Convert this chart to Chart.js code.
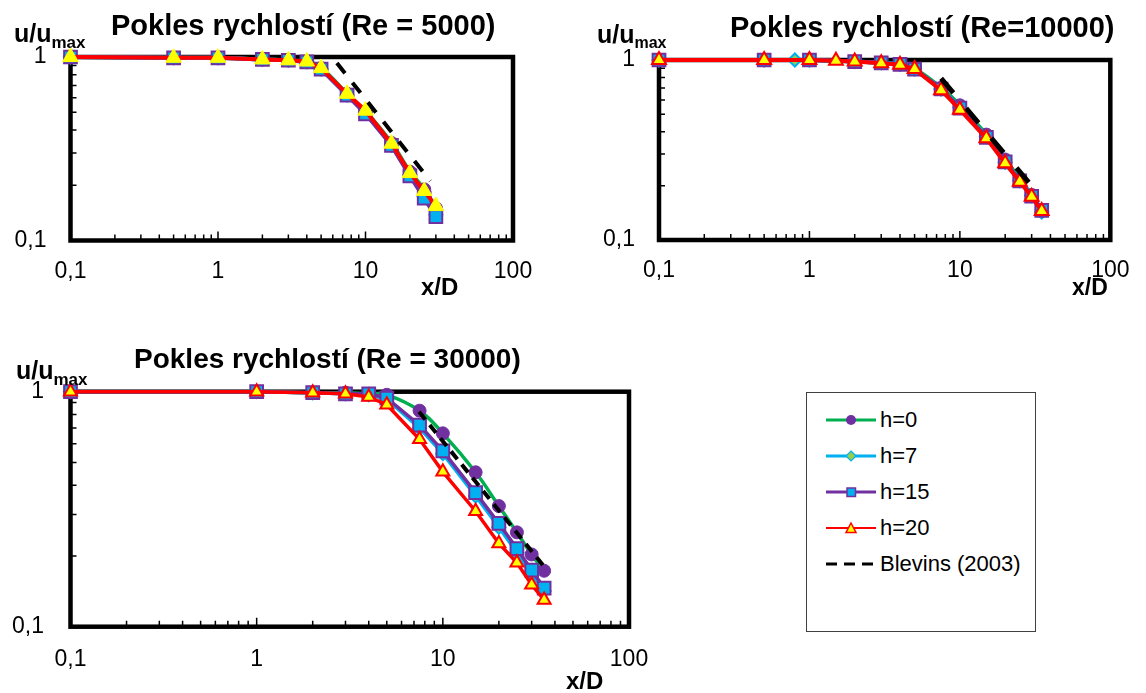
<!DOCTYPE html>
<html>
<head>
<meta charset="utf-8">
<title>Pokles rychlostí</title>
<script src="https://cdn.jsdelivr.net/npm/chart.js@4.4.1/dist/chart.umd.min.js"></script>
<style>
  html, body { margin: 0; padding: 0; background: #fff; }
  #page { position: relative; width: 1146px; height: 693px; overflow: hidden; font-family: "Liberation Sans", Arial, sans-serif; }
  #page canvas { position: absolute; }
  #legend { position: absolute; left: 806px; top: 392px; width: 228px; height: 238px; border: 1.5px solid #404040; }
  .row { position: absolute; left: 0; width: 228px; height: 24px; }
  .row svg { position: absolute; left: 19px; top: 2px; }
  .row span { position: absolute; left: 73px; top: 0; font-size: 22px; line-height: 24px; white-space: nowrap; color: #000; }
</style>
</head>
<body>
<div id="page">
  <canvas id="re5000" width="560" height="310" style="left:0;top:0"></canvas>
  <canvas id="re10000" width="586" height="310" style="left:560px;top:0"></canvas>
  <canvas id="re30000" width="700" height="363" style="left:0;top:330px"></canvas>
  <div id="legend"></div>
</div>
<script>
Chart.defaults.font.family = '"Liberation Sans", Arial, sans-serif';
Chart.defaults.color = '#000';

// axis ticks (log-log, inner minor ticks)
const xTicks = [0.1, 0.2, 0.3, 0.4, 0.5, 0.6, 0.7, 0.8, 0.9, 1, 2, 3, 4, 5, 6, 7, 8, 9, 10, 20, 30, 40, 50, 60, 70, 80, 90, 100];
const xTickLabels = [0.1, 1, 10, 100];
const yTicks = [0.1, 0.2, 0.3, 0.4, 0.5, 0.6, 0.7, 0.8, 0.9, 1];
const yTickLabels = [0.1, 1];

const seriesNames = ['h=0', 'h=7', 'h=15', 'h=20', 'Blevins (2003)'];

// Re = 5000
const x5000 = [0.1, 0.5, 1, 2, 3, 4, 5, 7.5, 10, 15, 20, 25, 30];
const re5000_h0 = [1.0, 0.99, 0.99, 0.97, 0.96, 0.94, 0.87, 0.63, 0.505, 0.34, 0.237, 0.19, 0.15];
const re5000_h7 = [1.0, 0.99, 0.99, 0.97, 0.96, 0.94, 0.86, 0.62, 0.495, 0.33, 0.228, 0.173, 0.138];
const re5000_h15 = [1.0, 0.99, 0.99, 0.97, 0.96, 0.94, 0.86, 0.62, 0.49, 0.33, 0.225, 0.17, 0.135];
const re5000_h20 = [1.0, 0.99, 0.99, 0.97, 0.96, 0.945, 0.87, 0.63, 0.51, 0.337, 0.233, 0.186, 0.154];
const blevins5000_x = [6.4, 27.5];
const blevins5000_y = [0.927, 0.211];

// Re = 10000
const x10000 = [0.1, 0.5, 1, 2, 3, 4, 5, 7.5, 10, 15, 20, 25, 30, 35];
const x10000_h7 = [0.1, 0.5, 0.8, 1, 2, 3, 4, 5, 7.5, 10, 15, 20, 25, 30, 35];
const x10000_h20 = [0.1, 0.5, 1, 1.5, 2, 3, 4, 5, 7.5, 10, 15, 20, 25, 30, 35];
const re10000_h0 = [1.0, 1.0, 1.0, 0.98, 0.965, 0.945, 0.895, 0.70, 0.56, 0.385, 0.28, 0.218, 0.178, 0.147];
const re10000_h7 = [1.0, 1.0, 1.0, 1.0, 0.98, 0.965, 0.945, 0.89, 0.69, 0.545, 0.375, 0.27, 0.213, 0.176, 0.143];
const re10000_h15 = [1.0, 1.0, 1.0, 0.98, 0.965, 0.945, 0.89, 0.69, 0.54, 0.372, 0.272, 0.213, 0.175, 0.146];
const re10000_h20 = [1.0, 1.0, 1.0, 0.99, 0.98, 0.96, 0.94, 0.89, 0.68, 0.53, 0.367, 0.267, 0.211, 0.174, 0.145];
const blevins10000_x = [7.5, 28.8];
const blevins10000_y = [0.79, 0.208];

// Re = 30000
const x30000 = [0.1, 1, 2, 3, 4, 5, 7.5, 10, 15, 20, 25, 30, 35];
const re30000_h0 = [1.0, 1.0, 0.99, 0.99, 0.98, 0.97, 0.83, 0.665, 0.454, 0.326, 0.252, 0.203, 0.173];
const re30000_h7 = [1.0, 1.0, 0.99, 0.98, 0.97, 0.93, 0.70, 0.545, 0.36, 0.265, 0.207, 0.168, 0.142];
const re30000_h15 = [1.0, 1.0, 0.99, 0.98, 0.98, 0.94, 0.72, 0.56, 0.372, 0.275, 0.215, 0.174, 0.146];
const re30000_h20 = [1.0, 1.0, 0.99, 0.98, 0.95, 0.88, 0.627, 0.456, 0.31, 0.226, 0.187, 0.151, 0.13];
const blevins30000_x = [7.45, 36.3];
const blevins30000_y = [0.822, 0.174];

function points(xs, ys) {
  return xs.map((x, i) => ({ x: x, y: ys[i] }));
}

function decimalComma(v) {
  return String(v).replace('.', ',');
}

// series looks, shared by the three panels
const looks = {
  h0: { borderColor: '#00b050', tension: 0.4, pointStyle: 'circle', pointRadius: 6.5,
        pointBackgroundColor: '#7030a0', pointBorderColor: '#7030a0', pointBorderWidth: 1, order: 4 },
  h7: { borderColor: '#00b0f0', pointStyle: 'rectRot', pointRadius: 6.5,
        pointBackgroundColor: '#92d050', pointBorderColor: '#00b0f0', pointBorderWidth: 2, order: 3 },
  h15: { borderColor: '#7030a0', pointStyle: 'rect', pointRadius: 9,
         pointBackgroundColor: '#00b0f0', pointBorderColor: '#7030a0', pointBorderWidth: 2, order: 2 },
  h20: { borderColor: '#ff0000', pointStyle: 'triangle', pointRadius: 8,
         pointBackgroundColor: '#ffff00', pointBorderColor: '#ff0000', pointBorderWidth: 2, order: 1 },
  blevins: { borderColor: '#000000', pointRadius: 0, order: 0 }
};

function series(name, look, xs, ys, extra) {
  return Object.assign({ label: name, data: points(xs, ys), clip: false, fill: false, borderWidth: 3.5 },
    looks[look], extra || {});
}

// frame, inner ticks and the panel texts
function decor(t) {
  const bold = s => 'bold ' + s + 'px "Liberation Sans", Arial, sans-serif';
  return {
    id: 'decor',
    beforeDatasetsDraw(chart) {
      const ctx = chart.ctx, a = chart.chartArea, sx = chart.scales.x, sy = chart.scales.y;
      ctx.save();
      ctx.strokeStyle = '#000';
      ctx.lineWidth = 1.5;
      ctx.beginPath();
      sx.ticks.forEach(tk => {
        const px = sx.getPixelForValue(tk.value);
        const len = xTickLabels.includes(tk.value) ? 9 : 6;
        ctx.moveTo(px, a.bottom);
        ctx.lineTo(px, a.bottom - len);
      });
      sy.ticks.forEach(tk => {
        const py = sy.getPixelForValue(tk.value);
        ctx.moveTo(a.left, py);
        ctx.lineTo(a.left + 6, py);
      });
      ctx.stroke();
      ctx.lineWidth = 4.5;
      ctx.strokeRect(a.left, a.top, a.right - a.left, a.bottom - a.top);
      ctx.restore();
    },
    afterDraw(chart) {
      const ctx = chart.ctx;
      ctx.save();
      ctx.fillStyle = '#000';
      ctx.textAlign = 'left';
      ctx.textBaseline = 'alphabetic';
      ctx.font = bold(t.title[3]);
      ctx.fillText(t.title[0], t.title[1], t.title[2]);
      ctx.font = bold(t.yTitle[3]);
      ctx.fillText('u/u', t.yTitle[1], t.yTitle[2]);
      const w = ctx.measureText('u/u').width;
      ctx.font = bold(t.yTitle[4]);
      ctx.fillText('max', t.yTitle[1] + w, t.yTitle[2] + t.yTitle[5]);
      ctx.font = bold(t.xTitle[3]);
      ctx.fillText('x/D', t.xTitle[1], t.xTitle[2]);
      ctx.restore();
    }
  };
}

function makePanel(id, area, datasets, texts) {
  const canvas = document.getElementById(id);
  return new Chart(canvas, {
    type: 'line',
    data: { datasets: datasets },
    options: {
      responsive: false,
      animation: false,
      events: [],
      layout: { padding: { top: area.top, right: canvas.width - area.right, bottom: 0, left: 0 } },
      plugins: { legend: { display: false }, tooltip: { enabled: false } },
      scales: {
        x: {
          type: 'logarithmic',
          min: 0.1,
          max: 100,
          grid: { display: false, drawTicks: false },
          border: { display: false },
          afterBuildTicks: s => { s.ticks = xTicks.map(v => ({ value: v })); },
          afterFit: s => { s.height = canvas.height - area.bottom; },
          ticks: {
            autoSkip: false, maxRotation: 0, padding: area.xPad,
            font: { size: 23 }, color: '#000',
            callback: v => xTickLabels.includes(v) ? decimalComma(v) : ''
          }
        },
        y: {
          type: 'logarithmic',
          min: 0.1,
          max: 1,
          grid: { display: false, drawTicks: false },
          border: { display: false },
          afterBuildTicks: s => { s.ticks = yTicks.map(v => ({ value: v })); },
          afterFit: s => { s.width = area.left; },
          ticks: {
            autoSkip: false, padding: area.yPad,
            font: { size: 23 }, color: '#000',
            callback: v => yTickLabels.includes(v) ? decimalComma(v) : ''
          }
        }
      }
    },
    plugins: [decor(texts)]
  });
}

const yellowTri = { pointBorderColor: '#ffff00', pointBorderWidth: 1, pointRadius: 9 };

makePanel('re5000',
  { left: 70.5, top: 57, right: 513, bottom: 240.5, xPad: 17, yPad: 24 },
  [
    series(seriesNames[0], 'h0', x5000, re5000_h0, { borderWidth: 4 }),
    series(seriesNames[1], 'h7', x5000, re5000_h7, { borderWidth: 4 }),
    series(seriesNames[2], 'h15', x5000, re5000_h15, { borderWidth: 4 }),
    series(seriesNames[3], 'h20', x5000, re5000_h20, Object.assign({ borderWidth: 4 }, yellowTri)),
    series(seriesNames[4], 'blevins', blevins5000_x, blevins5000_y, { borderWidth: 4, borderDash: [13, 12] })
  ],
  {
    title: ['Pokles rychlostí (Re = 5000)', 111, 35, 29],
    yTitle: ['u/umax', 14, 42, 25, 17, 6],
    xTitle: ['x/D', 421, 295, 24]
  });

makePanel('re10000',
  { left: 99, top: 60, right: 559, bottom: 240, xPad: 16.5, yPad: 24 },
  [
    series(seriesNames[0], 'h0', x10000, re10000_h0, { borderWidth: 4 }),
    series(seriesNames[1], 'h7', x10000_h7, re10000_h7, { borderWidth: 4 }),
    series(seriesNames[2], 'h15', x10000, re10000_h15, { borderWidth: 4 }),
    series(seriesNames[3], 'h20', x10000_h20, re10000_h20, { borderWidth: 4 }),
    series(seriesNames[4], 'blevins', blevins10000_x, blevins10000_y, { borderWidth: 5, borderDash: [19, 20] })
  ],
  {
    title: ['Pokles rychlostí (Re=10000)', 170, 37, 29],
    yTitle: ['u/umax', 37, 43, 25, 16, 5],
    xTitle: ['x/D', 512, 295, 23]
  });

makePanel('re30000',
  { left: 70.5, top: 61.7, right: 629, bottom: 296.7, xPad: 19.5, yPad: 26.5 },
  [
    series(seriesNames[0], 'h0', x30000, re30000_h0),
    series(seriesNames[1], 'h7', x30000, re30000_h7),
    series(seriesNames[2], 'h15', x30000, re30000_h15),
    series(seriesNames[3], 'h20', x30000, re30000_h20, { pointRadius: 7.5 }),
    series(seriesNames[4], 'blevins', blevins30000_x, blevins30000_y, { borderWidth: 4, borderDash: [10, 7] })
  ],
  {
    title: ['Pokles rychlostí (Re = 30000)', 134, 38, 28],
    yTitle: ['u/umax', 16, 49, 25, 17, 6],
    xTitle: ['x/D', 566, 359, 24]
  });

// legend box (bottom right)
const legendRows = [
  { top: 14.5, line: '#00b050', width: 3, dash: '', marker: '<circle cx="25" cy="10" r="5" fill="#7030a0"/>' },
  { top: 50.5, line: '#00b0f0', width: 3, dash: '', marker: '<polygon points="25,5 30,10 25,15 20,10" fill="#92d050" stroke="#00b0f0" stroke-width="1.2"/>' },
  { top: 86.5, line: '#7030a0', width: 3, dash: '', marker: '<rect x="21" y="6" width="8.5" height="8.5" fill="#00b0f0" stroke="#7030a0" stroke-width="1.5"/>' },
  { top: 123, line: '#ff0000', width: 2, dash: '', marker: '<polygon points="25,5 30,14.5 20,14.5" fill="#ffff00" stroke="#ff0000" stroke-width="1.5"/>' },
  { top: 158.5, line: '#000000', width: 3, dash: '11 7', marker: '' }
];

const legend = document.getElementById('legend');
legendRows.forEach((r, i) => {
  const row = document.createElement('div');
  row.className = 'row';
  row.style.top = r.top + 'px';
  row.innerHTML =
    '<svg width="50" height="20" viewBox="0 0 50 20">' +
    '<line x1="0" y1="10" x2="50" y2="10" stroke="' + r.line + '" stroke-width="' + r.width + '"' +
    (r.dash ? ' stroke-dasharray="' + r.dash + '"' : '') + '/>' + r.marker + '</svg>' +
    '<span>' + seriesNames[i] + '</span>';
  legend.appendChild(row);
});
</script>
</body>
</html>
